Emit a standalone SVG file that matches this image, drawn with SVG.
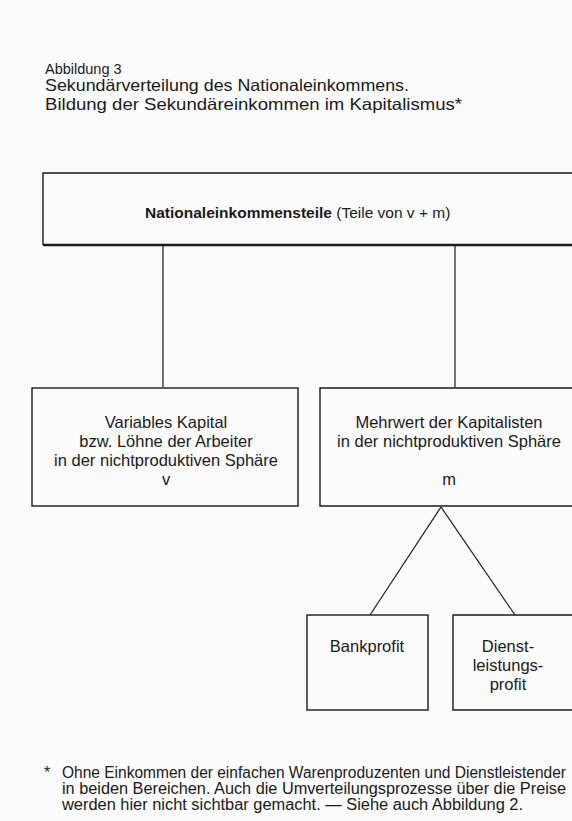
<svg xmlns="http://www.w3.org/2000/svg" width="572" height="821" viewBox="0 0 572 821">
<style>
text{font-family:"Liberation Sans",Arial,sans-serif;fill:#1a1a1a}
.box{fill:none;stroke:#1a1a1a;stroke-width:1.4}
.ln{stroke:#1a1a1a;stroke-width:1.2;fill:none}
.t{font-size:16.5px;text-anchor:middle}
.h{font-size:16.5px}
.f{font-size:16px}
</style>
<rect width="572" height="821" fill="#fbfbfb"/>
<g id="title">
<text x="45" y="74" style="font-size:14.5px">Abbildung 3</text>
<text x="45" y="91" class="h" textLength="364" lengthAdjust="spacingAndGlyphs">Sekundärverteilung des Nationaleinkommens.</text>
<text x="45" y="110" class="h" textLength="417" lengthAdjust="spacingAndGlyphs">Bildung der Sekundäreinkommen im Kapitalismus*</text>
</g>
<g id="connectors">
<line class="ln" x1="163" y1="245" x2="163" y2="387"/>
<line class="ln" x1="455" y1="245" x2="455" y2="387"/>
<line class="ln" x1="441" y1="507" x2="370" y2="615"/>
<line class="ln" x1="441" y1="507" x2="515" y2="615"/>
</g>
<g id="top">
<path class="box" d="M580 173 H43 V245"/>
<line x1="43" y1="245" x2="580" y2="245" stroke="#1a1a1a" stroke-width="2.4"/>
<text x="145" y="218" style="font-size:15.5px"><tspan font-weight="bold">Nationaleinkommensteile</tspan> (Teile von v + m)</text>
</g>
<g id="v">
<rect class="box" x="32" y="388" width="266" height="118"/>
<text class="t" x="166" y="428">Variables Kapital</text>
<text class="t" x="166" y="447">bzw. Löhne der Arbeiter</text>
<text class="t" x="166" y="466">in der nichtproduktiven Sphäre</text>
<text class="t" x="166" y="485">v</text>
</g>
<g id="m">
<path class="box" d="M580 388 H320 V506 H580"/>
<text class="t" x="449" y="428">Mehrwert der Kapitalisten</text>
<text class="t" x="449" y="447">in der nichtproduktiven Sphäre</text>
<text class="t" x="449" y="485">m</text>
</g>
<g id="bank">
<rect class="box" x="307" y="615" width="121" height="95"/>
<text class="t" x="367" y="652">Bankprofit</text>
</g>
<g id="dienst">
<path class="box" d="M580 615 H453 V710 H580"/>
<text class="t" x="508" y="652">Dienst-</text>
<text class="t" x="508" y="671">leistungs-</text>
<text class="t" x="508" y="690">profit</text>
</g>
<g id="footnote">
<text x="44" y="778" class="f">*</text>
<text x="62" y="778" class="f" textLength="504" lengthAdjust="spacingAndGlyphs">Ohne Einkommen der einfachen Warenproduzenten und Dienstleistender</text>
<text x="62" y="794" class="f" textLength="504" lengthAdjust="spacingAndGlyphs">in beiden Bereichen. Auch die Umverteilungsprozesse über die Preise</text>
<text x="62" y="810" class="f" textLength="461" lengthAdjust="spacingAndGlyphs">werden hier nicht sichtbar gemacht. — Siehe auch Abbildung 2.</text>
</g>
</svg>
